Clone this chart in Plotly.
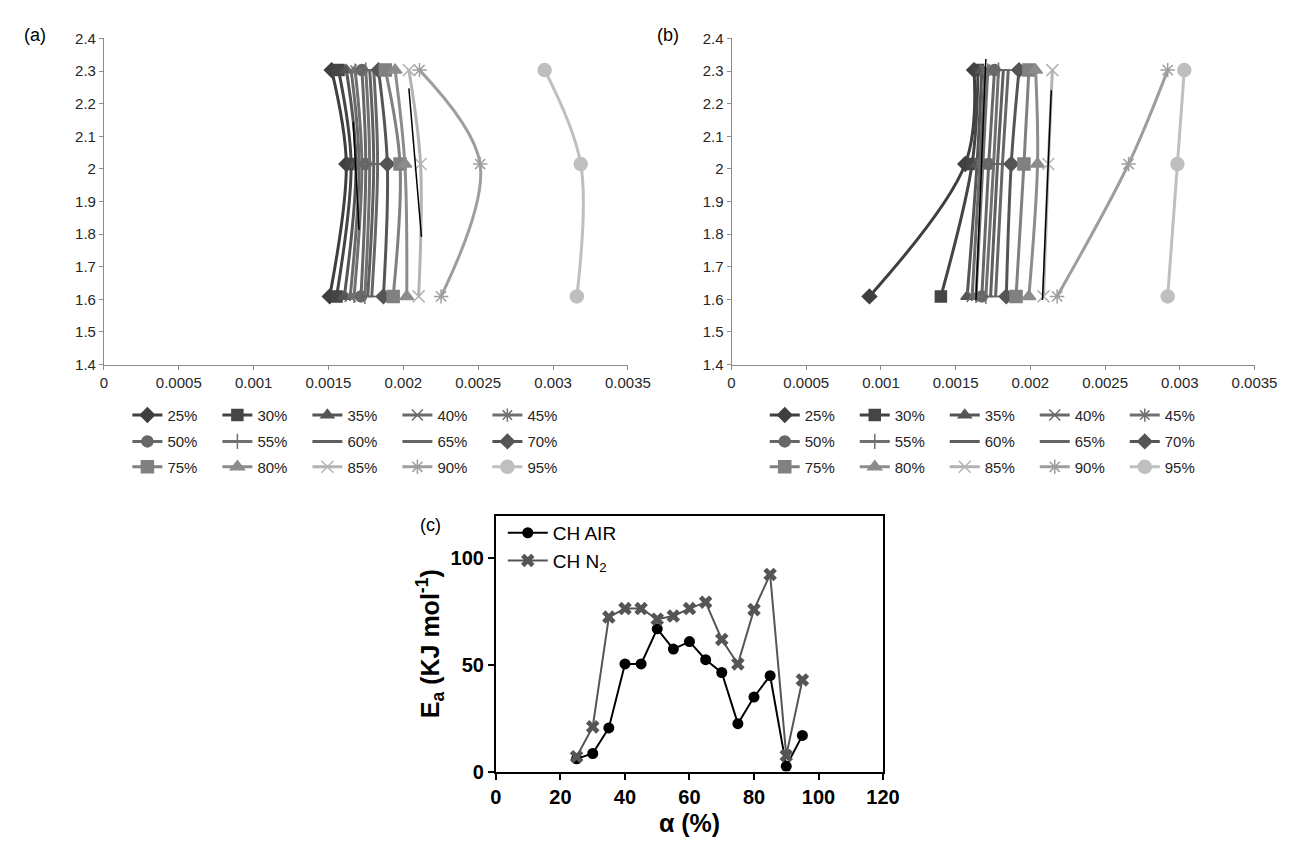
import plotly.graph_objects as go

W, H = 1292, 841

# ---------------- data ----------------
ln_beta = [2.303, 2.015, 1.609]          # ln(heating rate) levels (y)
conv_labels = ["25%", "30%", "35%", "40%", "45%", "50%", "55%", "60%",
               "65%", "70%", "75%", "80%", "85%", "90%", "95%"]

# panel (a): 1/T values at each ln_beta level, per conversion
a_x = [
    [0.001521, 0.001619, 0.001508],
    [0.001567, 0.001651, 0.001554],
    [0.001619, 0.001684, 0.001606],
    [0.001651, 0.001704, 0.001645],
    [0.001678, 0.001723, 0.001671],
    [0.001723, 0.001749, 0.001717],
    [0.001749, 0.001775, 0.001743],
    [0.001775, 0.001802, 0.001762],
    [0.001802, 0.001828, 0.001789],
    [0.001834, 0.001893, 0.001867],
    [0.001880, 0.001978, 0.001932],
    [0.001945, 0.002010, 0.002023],
    [0.002037, 0.002115, 0.002102],
    [0.002108, 0.002513, 0.002252],
    [0.002944, 0.003185, 0.003159],
]
# panel (b)
b_x = [
    [0.001623, 0.001564, 0.000923],
    [0.001649, 0.001610, 0.001401],
    [0.001675, 0.001643, 0.001577],
    [0.001695, 0.001662, 0.001610],
    [0.001715, 0.001682, 0.001636],
    [0.001760, 0.001721, 0.001675],
    [0.001787, 0.001754, 0.001702],
    [0.001819, 0.001780, 0.001734],
    [0.001852, 0.001813, 0.001767],
    [0.001924, 0.001872, 0.001839],
    [0.001990, 0.001957, 0.001904],
    [0.002035, 0.002048, 0.001990],
    [0.002147, 0.002120, 0.002088],
    [0.002919, 0.002657, 0.002179],
    [0.003030, 0.002984, 0.002919],
]
# thin black fit lines
a_fit1_x = [0.001665, 0.001704]; a_fit1_y = [2.143, 1.813]
a_fit2_x = [0.002037, 0.002121]; a_fit2_y = [2.247, 1.792]
b_fit1_x = [0.001702, 0.001636]; b_fit1_y = [2.337, 1.598]
b_fit2_x = [0.002140, 0.002081]; b_fit2_y = [2.241, 1.598]

# panel (c)
alpha = [25, 30, 35, 40, 45, 50, 55, 60, 65, 70, 75, 80, 85, 90, 95]
ea_air = [6, 8.5, 20.5, 50.5, 50.5, 67, 57.5, 61, 52.5, 46.5, 22.5, 35, 45, 2.5, 17]
ea_n2 = [7, 21, 72.5, 76.5, 76.5, 71.5, 73, 76.5, 79.5, 62, 50.5, 76, 92.5, 7.5, 43]

y_ticks = [1.4, 1.5, 1.6, 1.7, 1.8, 1.9, 2.0, 2.1, 2.2, 2.3, 2.4]
y_ticktext = ["1.4", "1.5", "1.6", "1.7", "1.8", "1.9", "2", "2.1", "2.2", "2.3", "2.4"]
x_ticks = [0, 0.0005, 0.001, 0.0015, 0.002, 0.0025, 0.003, 0.0035]
x_ticktext = ["0", "0.0005", "0.001", "0.0015", "0.002", "0.0025", "0.003", "0.0035"]

# ---------------- styles ----------------
colors = ["#3f3f3f", "#454545", "#555555", "#6a6a6a", "#707070", "#676767",
          "#707070", "#5f5f5f", "#666666", "#555555", "#808080", "#8c8c8c",
          "#b3b3b3", "#9e9e9e", "#bfbfbf"]
symbols = ["diamond", "square", "triangle-up", "x-thin-open", "asterisk-open",
           "circle", "cross-thin-open", "line-ew-open", "line-ew-open", "diamond",
           "square", "triangle-up", "x-thin-open", "asterisk-open", "circle"]
sizes = [11, 11, 11, 11, 11, 11, 11, 10, 10, 11, 12, 12, 12, 12, 13]

def px_x(p):
    return p / W

def px_y(p):
    return 1 - p / H

fig = go.Figure()

panels = [("x", "y", a_x, 1), ("x2", "y2", b_x, 4)]
for xa, ya, data, leg0 in panels:
    for i, lab in enumerate(conv_labels):
        row = i // 5
        legname = "legend" if (leg0 + row) == 1 else f"legend{leg0 + row}"
        fig.add_trace(go.Scatter(
            x=data[i], y=ln_beta, xaxis=xa, yaxis=ya, name=lab,
            mode="lines+markers",
            line=dict(color=colors[i], width=3, shape="spline", smoothing=1),
            marker=dict(symbol=symbols[i], size=sizes[i], color=colors[i],
                        line=dict(color=colors[i], width=1.5)),
            legend=legname, showlegend=True,
        ))

for fx, fy, xa, ya in [(a_fit1_x, a_fit1_y, "x", "y"), (a_fit2_x, a_fit2_y, "x", "y"),
                       (b_fit1_x, b_fit1_y, "x2", "y2"), (b_fit2_x, b_fit2_y, "x2", "y2")]:
    fig.add_trace(go.Scatter(x=fx, y=fy, xaxis=xa, yaxis=ya, mode="lines",
                             line=dict(color="black", width=1.5), showlegend=False,
                             hoverinfo="skip"))

fig.add_trace(go.Scatter(x=alpha, y=ea_air, xaxis="x3", yaxis="y3", name="CH AIR",
                         mode="lines+markers", line=dict(color="black", width=2),
                         marker=dict(symbol="circle", size=11, color="black"),
                         legend="legend7"))
fig.add_trace(go.Scatter(x=alpha, y=ea_n2, xaxis="x3", yaxis="y3", name="CH N<sub>2</sub>",
                         mode="lines+markers", line=dict(color="#555555", width=2),
                         marker=dict(symbol="x", size=12, color="#555555"),
                         legend="legend7"))

tick_font = dict(family="Liberation Sans, Arial, sans-serif", size=15, color="#262626")
ax_common = dict(showgrid=False, zeroline=False, showline=True, linecolor="#8c8c8c",
                 linewidth=1, ticks="outside", ticklen=4, tickcolor="#8c8c8c",
                 tickfont=tick_font)

c_tick_font = dict(family="Liberation Sans, Arial", size=20, color="black", weight="bold")
c_title_font = dict(family="Liberation Sans, Arial", size=25, color="black")

dom_y = [px_y(356), px_y(22)]
layout = dict(
    width=W, height=H, margin=dict(l=0, r=0, t=0, b=0),
    paper_bgcolor="white", plot_bgcolor="white",
    xaxis=dict(domain=[px_x(92), px_x(628)], range=[0, 0.0035], anchor="y",
               tickvals=x_ticks, ticktext=x_ticktext, **ax_common),
    yaxis=dict(domain=dom_y, range=[1.4, 2.4], anchor="x",
               tickvals=y_ticks, ticktext=y_ticktext, **ax_common),
    xaxis2=dict(domain=[px_x(734), px_x(1269)], range=[0, 0.0035], anchor="y2",
                tickvals=x_ticks, ticktext=x_ticktext, **ax_common),
    yaxis2=dict(domain=dom_y, range=[1.4, 2.4], anchor="x2",
                tickvals=y_ticks, ticktext=y_ticktext, **ax_common),
    xaxis3=dict(domain=[px_x(493), px_x(889)], range=[0, 120], anchor="y3",
                tickvals=[0, 20, 40, 60, 80, 100, 120], showgrid=False, zeroline=False,
                showline=True, linecolor="black", linewidth=2, mirror=True,
                ticks="outside", ticklen=6, tickwidth=2, tickcolor="black",
                tickfont=c_tick_font,
                title=dict(text="<b>α (%)</b>", font=c_title_font, standoff=8)),
    yaxis3=dict(domain=[px_y(773), px_y(511)], range=[0, 120], anchor="x3",
                tickvals=[0, 50, 100], showgrid=False, zeroline=False,
                showline=True, linecolor="black", linewidth=2, mirror=True,
                ticks="outside", ticklen=6, tickwidth=2, tickcolor="black",
                tickfont=c_tick_font,
                title=dict(text="<b>E<sub>a</sub> (KJ mol<sup>-1</sup>)</b>",
                           font=c_title_font, standoff=4)),
)

leg_font = dict(family="Liberation Sans, Arial, sans-serif", size=15, color="#262626")
row_y = [408, 435, 461]
for k in range(6):
    name = "legend" if k == 0 else f"legend{k + 1}"
    left = 116 if k < 3 else 768
    layout[name] = dict(orientation="h", x=px_x(left), xanchor="left",
                        y=px_y(row_y[k % 3]), yanchor="middle",
                        entrywidth=45, entrywidthmode="pixels", itemwidth=30,
                        font=leg_font, bgcolor="rgba(0,0,0,0)", tracegroupgap=0)
layout["legend7"] = dict(orientation="v", x=px_x(500), xanchor="left", y=px_y(509),
                         yanchor="top", font=dict(family="Liberation Sans, Arial", size=19, color="black"),
                         itemwidth=40, bgcolor="rgba(0,0,0,0)", tracegroupgap=8)

fig.update_layout(**layout)

lab_font = dict(family="Liberation Sans, Arial", size=18, color="black")
for txt, xp, yp in [("(a)", 8, 18), ("(b)", 656, 18), ("(c)", 413, 520)]:
    fig.add_annotation(text=txt, x=px_x(xp), y=px_y(yp), xref="paper", yref="paper",
                       xanchor="left", yanchor="middle", showarrow=False, font=lab_font)

fig.write_html("out.html")
